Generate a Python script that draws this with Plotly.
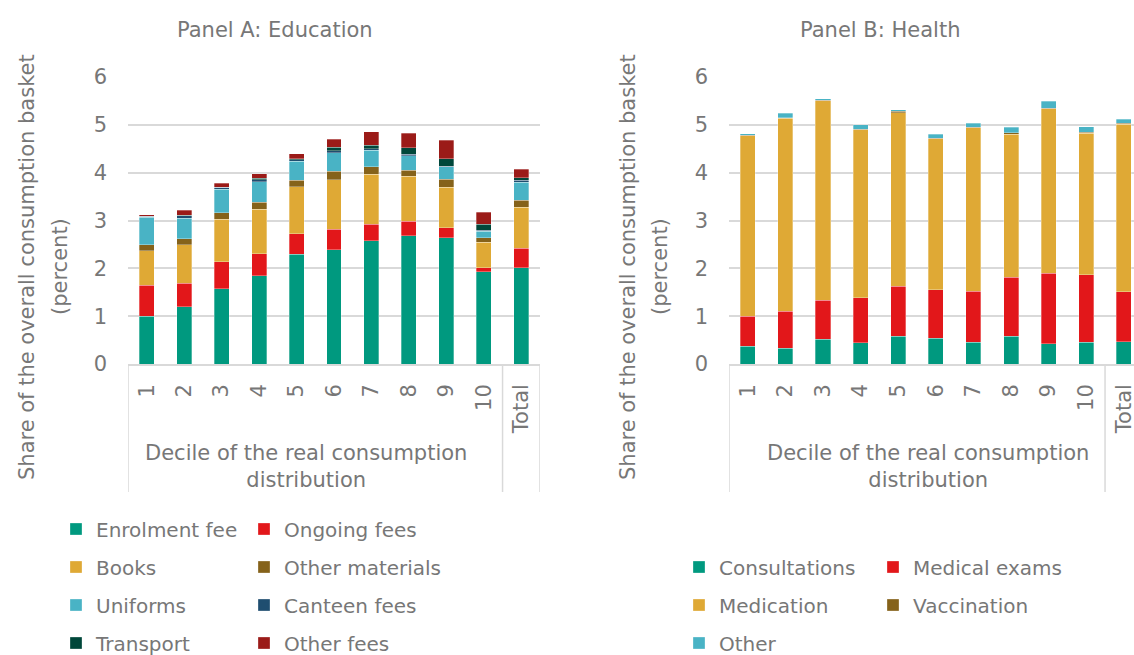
import plotly.graph_objects as go

categories = ["1", "2", "3", "4", "5", "6", "7", "8", "9", "10", "Total"]

# Panel A: Education (percent of overall consumption basket)
edu_enrolment = [1.00, 1.20, 1.57, 1.84, 2.29, 2.39, 2.58, 2.68, 2.64, 1.93, 2.01]
edu_ongoing = [0.65, 0.49, 0.57, 0.46, 0.43, 0.43, 0.34, 0.30, 0.21, 0.08, 0.41]
edu_books = [0.72, 0.80, 0.89, 0.94, 0.99, 1.03, 1.05, 0.94, 0.85, 0.54, 0.86]
edu_other_materials = [0.12, 0.13, 0.13, 0.14, 0.13, 0.18, 0.15, 0.13, 0.16, 0.09, 0.14]
edu_uniforms = [0.58, 0.43, 0.49, 0.43, 0.40, 0.39, 0.35, 0.30, 0.26, 0.14, 0.38]
edu_canteen = [0.02, 0.05, 0.04, 0.04, 0.03, 0.04, 0.03, 0.03, 0.01, 0.02, 0.04]
edu_transport = [0.00, 0.01, 0.01, 0.03, 0.02, 0.07, 0.07, 0.14, 0.16, 0.12, 0.05]
edu_other_fees = [0.03, 0.10, 0.08, 0.10, 0.11, 0.17, 0.29, 0.30, 0.39, 0.25, 0.18]

# Panel B: Health
hl_consultations = [0.37, 0.33, 0.52, 0.44, 0.58, 0.54, 0.46, 0.58, 0.42, 0.45, 0.47]
hl_exams = [0.63, 0.77, 0.81, 0.94, 1.05, 1.01, 1.06, 1.23, 1.48, 1.42, 1.04]
hl_medication = [3.77, 4.04, 4.17, 3.52, 3.62, 3.16, 3.42, 2.99, 3.44, 2.95, 3.50]
hl_vaccination = [0.01, 0.01, 0.01, 0.01, 0.03, 0.01, 0.01, 0.03, 0.01, 0.03, 0.02]
hl_other = [0.03, 0.09, 0.04, 0.09, 0.04, 0.08, 0.08, 0.12, 0.14, 0.11, 0.09]

TEAL = "#00997F"
RED = "#E2171A"
GOLD = "#DFA935"
BROWN = "#85621A"
CYAN = "#49B3C5"
NAVY = "#1F4E70"
DKGREEN = "#00473A"
DKRED = "#9B1B18"

FONT = "'DejaVu Sans', sans-serif"
TXT = "#777777"
GRID = "#D9D9D9"
FS = 21
LFS = 20

W, H = 1134, 655
PT, PB = 77, 364  # plot area top / bottom in px
PH = PB - PT


def py(ypx):
    return (PB - ypx) / PH


# name, values, colour, legend text start (px), legend row centre (px)
edu_series = [
    ("Enrolment fee", edu_enrolment, TEAL, 93, 529),
    ("Ongoing fees", edu_ongoing, RED, 281, 529),
    ("Books", edu_books, GOLD, 93, 567),
    ("Other materials", edu_other_materials, BROWN, 281, 567),
    ("Uniforms", edu_uniforms, CYAN, 93, 605),
    ("Canteen fees", edu_canteen, NAVY, 281, 605),
    ("Transport", edu_transport, DKGREEN, 93, 643),
    ("Other fees", edu_other_fees, DKRED, 281, 643),
]
hl_series = [
    ("Consultations", hl_consultations, TEAL, 716, 567),
    ("Medical exams", hl_exams, RED, 910, 567),
    ("Medication", hl_medication, GOLD, 716, 605),
    ("Vaccination", hl_vaccination, BROWN, 910, 605),
    ("Other", hl_other, CYAN, 716, 643),
]

fig = go.Figure()
legend_layout = {}
k = 0
for series, xa, ya in ((edu_series, "x", "y"), (hl_series, "x2", "y2")):
    for name, vals, col, tx, ty in series:
        k += 1
        key = "legend" if k == 1 else f"legend{k}"
        fig.add_trace(go.Bar(x=categories, y=vals, name=name, marker_color=col,
                             marker_line_width=0.5,
                             marker_line_color="rgba(255,255,255,0.6)",
                             xaxis=xa, yaxis=ya, legend=key, showlegend=True))
        legend_layout[key] = dict(orientation="h", x=(tx - 37) / W, xanchor="left",
                                  y=py(ty), yanchor="middle", visible=True,
                                  bgcolor="rgba(0,0,0,0)", borderwidth=0,
                                  font=dict(family=FONT, size=LFS, color=TXT))

xa_common = dict(type="category", showline=True, linecolor=GRID, linewidth=1.5,
                 tickangle=-90, ticks="", ticklabelstandoff=10,
                 tickfont=dict(family=FONT, size=FS, color=TXT), showgrid=False,
                 fixedrange=True)
ya_common = dict(range=[0, 6], dtick=1, showgrid=True, gridcolor=GRID, gridwidth=1.5,
                 zeroline=False, showline=False, ticks="", ticklabelstandoff=20,
                 tickfont=dict(family=FONT, size=FS, color=TXT), fixedrange=True)

fig.update_layout(
    width=W, height=H,
    margin=dict(l=0, r=0, t=PT, b=H - PB, pad=0, autoexpand=False),
    paper_bgcolor="white", plot_bgcolor="white",
    showlegend=True,
    barmode="stack", bargap=0.6,
    font=dict(family=FONT, size=FS, color=TXT),
    xaxis=dict(domain=[128 / W, 540 / W], range=[-0.5, 10.5], anchor="y", **xa_common),
    yaxis=dict(anchor="x", domain=[0, 1], **ya_common),
    xaxis2=dict(domain=[729 / W, 1.0], range=[-0.5, 10.27], anchor="y2", **xa_common),
    yaxis2=dict(anchor="x2", domain=[0, 1], **ya_common),
    **legend_layout,
)

ann = []
ann.append(dict(text="Panel A: Education", x=275 / W, y=py(30), xref="paper", yref="paper",
                showarrow=False, xanchor="center", yanchor="middle",
                font=dict(family=FONT, size=FS, color=TXT)))
ann.append(dict(text="Panel B: Health", x=880 / W, y=py(30), xref="paper", yref="paper",
                showarrow=False, xanchor="center", yanchor="middle",
                font=dict(family=FONT, size=FS, color=TXT)))
for x1, x2 in ((27, 60), (628, 660)):
    ann.append(dict(text="Share of the overall consumption basket",
                    x=x1 / W, y=py(267), xref="paper", yref="paper", textangle=-90,
                    showarrow=False, xanchor="center", yanchor="middle",
                    font=dict(family=FONT, size=FS, color=TXT)))
    ann.append(dict(text="(percent)",
                    x=x2 / W, y=py(267), xref="paper", yref="paper", textangle=-90,
                    showarrow=False, xanchor="center", yanchor="middle",
                    font=dict(family=FONT, size=FS, color=TXT)))
for xc in (306, 928):
    ann.append(dict(text="Decile of the real consumption<br>distribution",
                    x=xc / W, y=py(466), xref="paper", yref="paper",
                    showarrow=False, xanchor="center", yanchor="middle",
                    font=dict(family=FONT, size=FS, color=TXT)))
fig.update_layout(annotations=ann)

shapes = []
ybot = py(492)
for xr, xs in (("x", [-0.5, 9.5, 10.5]), ("x2", [-0.5, 9.5])):
    for xv in xs:
        shapes.append(dict(type="line", xref=xr, yref="paper", x0=xv, x1=xv, y0=0, y1=ybot,
                           line=dict(color=GRID, width=1.5)))
fig.update_layout(shapes=shapes)

fig.write_html("out.html", config={"displayModeBar": False},
               post_script="document.body.style.margin='0';document.body.style.overflow='hidden';")
